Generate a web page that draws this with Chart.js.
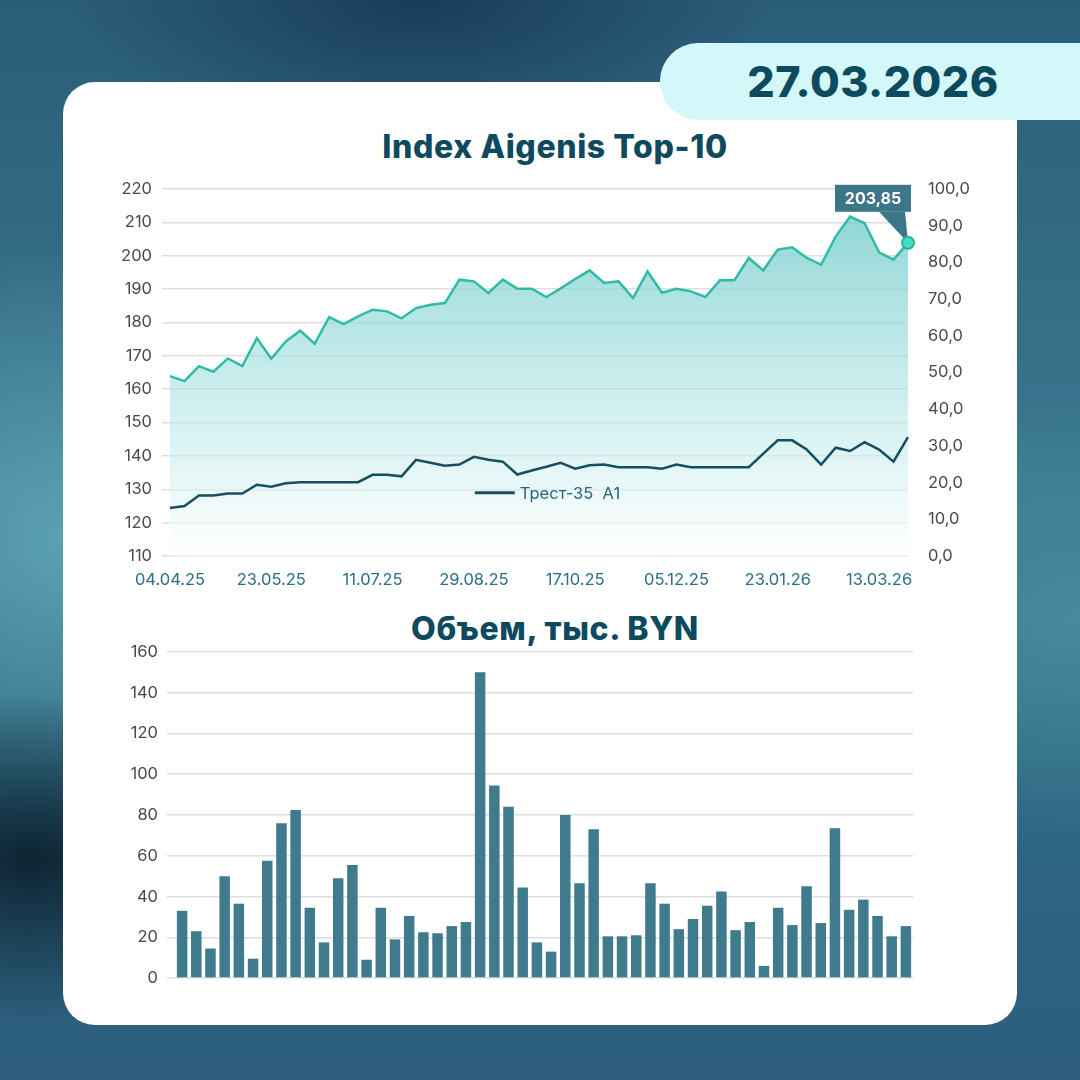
<!DOCTYPE html>
<html>
<head>
<meta charset="utf-8">
<script src="https://cdn.jsdelivr.net/npm/chart.js"></script>
<style>
  html, body { margin: 0; padding: 0; }
  body {
    width: 1080px; height: 1080px; position: relative; overflow: hidden;
    font-family: Inter, "Open Sans", sans-serif;
    background:
      radial-gradient(ellipse 380px 240px at 30px 860px, rgba(8,24,36,0.85), rgba(8,24,36,0) 70%),
      radial-gradient(ellipse 420px 420px at 60px 540px, rgba(95,165,180,0.9), rgba(95,165,180,0) 70%),
      radial-gradient(ellipse 500px 320px at 1080px 620px, rgba(75,145,160,0.8), rgba(75,145,160,0) 70%),
      radial-gradient(ellipse 500px 220px at 420px 0px, rgba(24,56,84,0.9), rgba(24,56,84,0) 70%),
      linear-gradient(180deg, #2a5d78 0%, #3a7890 45%, #2d6782 75%, #2d5e7e 100%);
  }
  .card {
    position: absolute; left: 63px; top: 82px; width: 954px; height: 943px;
    background: #fff; border-radius: 32px;
  }
  .badge {
    position: absolute; left: 660px; top: 43px; width: 460px; height: 77px;
    background: #d4f7f9; border-radius: 38px;
  }
  .badge span {
    position: absolute; left: 0; width: 426px; top: 0; line-height: 77px;
    text-align: center; font-size: 43px; font-weight: 800; color: #0c4a5e;
    letter-spacing: 0.5px;
  }
  .title {
    position: absolute; left: 63px; width: 984px; text-align: center;
    font-size: 32px; font-weight: 800; color: #0e4a5e; letter-spacing: 0.6px;
  }
  canvas { position: absolute; }
</style>
</head>
<body>
<div class="card"></div>
<div class="badge"><span>27.03.2026</span></div>
<div class="title" style="top:127px;">Index Aigenis Top-10</div>
<div class="title" style="top:609px;">Объем, тыс. BYN</div>
<canvas id="lineChart" width="954" height="433" style="left:63px;top:167px;"></canvas>
<canvas id="barChart" width="954" height="364" style="left:63px;top:633px;"></canvas>
<script>
// === DATA ===
const labels = [
  '04.04.25','11.04.25','18.04.25','25.04.25','02.05.25','09.05.25','16.05.25','23.05.25','30.05.25','06.06.25',
  '13.06.25','20.06.25','27.06.25','04.07.25','11.07.25','18.07.25','25.07.25','01.08.25','08.08.25','15.08.25',
  '22.08.25','29.08.25','05.09.25','12.09.25','19.09.25','26.09.25','03.10.25','10.10.25','17.10.25','24.10.25',
  '31.10.25','07.11.25','14.11.25','21.11.25','28.11.25','05.12.25','12.12.25','19.12.25','26.12.25','02.01.26',
  '09.01.26','16.01.26','23.01.26','30.01.26','06.02.26','13.02.26','20.02.26','27.02.26','06.03.26','13.03.26',
  '20.03.26','27.03.26'
];
const shownLabels = ['04.04.25','23.05.25','11.07.25','29.08.25','17.10.25','05.12.25','23.01.26','13.03.26'];

const indexValues = [
  163.9,162.4,166.9,165.2,169.2,166.9,175.3,169.1,174.3,177.5,
  173.6,181.6,179.5,181.8,183.8,183.3,181.2,184.3,185.3,185.8,
  192.8,192.3,188.8,192.8,190.1,190.1,187.6,190.2,193.0,195.6,
  191.8,192.3,187.3,195.3,188.9,190.1,189.3,187.6,192.6,192.6,
  199.3,195.6,201.8,202.5,199.3,197.3,205.7,211.7,209.7,201.0,
  198.8,203.85
];
const trestValues = [
  13.1,13.6,16.5,16.5,17.0,17.0,19.4,18.9,19.8,20.1,
  20.1,20.1,20.1,20.1,22.1,22.1,21.7,26.2,25.4,24.6,
  24.9,27.0,26.2,25.7,22.2,23.3,24.3,25.4,23.8,24.7,
  24.9,24.2,24.2,24.2,23.8,24.9,24.2,24.2,24.2,24.2,
  24.2,27.9,31.5,31.5,29.0,24.9,29.5,28.6,31.0,29.0,
  25.7,32.4
];
const volumeValues = [
  33,23,14.5,50,36.5,9.5,57.5,76,82.5,34.5,
  17.5,49,55.5,9,34.5,19,30.5,22.5,22,25.5,
  27.5,150,94.5,84,44.5,17.5,13,80,46.5,73,
  20.5,20.5,21,46.5,36.5,24,29,35.5,42.5,23.5,
  27.5,6,34.5,26,45,27,73.5,33.5,38.5,30.5,
  20.5,25.5
];
const legendLabel = 'Трест-35  А1';
const lastLabel = '203,85';

// === STYLE ===
const TICK_FONT = { family: 'Inter, "Open Sans", sans-serif', size: 16.5 };
const GRID = '#dedede';
const fmtComma = (v) => v.toFixed(1).replace('.', ',');

// === PLUGIN: legend inside plot + callout for last point ===
const overlayPlugin = {
  id: 'overlay',
  afterDatasetsDraw(chart) {
    const ctx = chart.ctx;
    const area = chart.chartArea;
    // legend
    const lx = area.left + (area.right - area.left) * 0.413;
    const ly = chart.scales.yRight.getPixelForValue(17.2);
    ctx.save();
    ctx.strokeStyle = '#174f62';
    ctx.lineWidth = 3;
    ctx.beginPath(); ctx.moveTo(lx, ly); ctx.lineTo(lx + 40, ly); ctx.stroke();
    ctx.fillStyle = '#2a6478';
    ctx.font = '16.5px Inter, "Open Sans", sans-serif';
    ctx.textBaseline = 'middle';
    ctx.fillText(legendLabel, lx + 45, ly + 1);

    // callout
    const meta = chart.getDatasetMeta(0);
    const pt = meta.data[meta.data.length - 1];
    const bw = 76, bh = 27;
    const bx = pt.x - 73, by = pt.y - 58;
    ctx.fillStyle = '#3e7689';
    ctx.fillRect(bx, by, bw, bh);
    ctx.beginPath();
    ctx.moveTo(bx + bw - 32, by + bh);
    ctx.lineTo(pt.x, pt.y);
    ctx.lineTo(bx + bw - 6, by + bh);
    ctx.closePath(); ctx.fill();
    ctx.fillStyle = '#fff';
    ctx.font = 'bold 16px Inter, "Open Sans", sans-serif';
    ctx.textAlign = 'center';
    ctx.fillText(lastLabel, bx + bw / 2, by + bh / 2 + 1);
    // point on top
    ctx.beginPath();
    ctx.arc(pt.x, pt.y, 6, 0, Math.PI * 2);
    ctx.fillStyle = '#45dcc6';
    ctx.fill();
    ctx.lineWidth = 2;
    ctx.strokeStyle = '#27b39f';
    ctx.stroke();
    ctx.restore();
  }
};

// === LINE CHART ===
new Chart(document.getElementById('lineChart'), {
  type: 'line',
  data: {
    labels,
    datasets: [
      {
        label: 'Index Aigenis Top-10',
        data: indexValues,
        yAxisID: 'yLeft',
        order: 1,
        borderColor: '#2fbca7',
        borderWidth: 2.5,
        pointRadius: 0,
        tension: 0,
        fill: 'start',
        backgroundColor: (c) => {
          const a = c.chart.chartArea;
          if (!a) return 'rgba(140,215,212,0.6)';
          const g = c.chart.ctx.createLinearGradient(0, a.top, 0, a.bottom);
          g.addColorStop(0, 'rgba(120,206,204,0.9)');
          g.addColorStop(0.55, 'rgba(170,226,226,0.6)');
          g.addColorStop(1, 'rgba(255,255,255,0.6)');
          return g;
        }
      },
      {
        label: legendLabel,
        data: trestValues,
        yAxisID: 'yRight',
        order: 0,
        borderColor: '#174f62',
        borderWidth: 2.5,
        pointRadius: 0,
        tension: 0,
        fill: false
      }
    ]
  },
  options: {
    responsive: false,
    animation: false,
    layout: { padding: { top: 0, right: 0, left: 0, bottom: 0 } },
    plugins: {
      legend: { display: false },
      tooltip: { enabled: false },
      filler: { drawTime: 'beforeDatasetsDraw' }
    },
    scales: {
      x: {
        grid: { display: false },
        border: { display: false },
        afterFit: (s) => { s.height = 44; },
        ticks: {
          autoSkip: false, maxRotation: 0, padding: 6,
          color: '#2a6f88', font: TICK_FONT,
          callback: function (v, i) {
            const l = labels[i];
            return shownLabels.includes(l) ? l : '';
          }
        }
      },
      yLeft: {
        position: 'left', min: 110, max: 220,
        afterFit: (s) => { s.width = 107; },
        grid: { color: GRID, lineWidth: 1.5 },
        border: { display: false },
        ticks: { stepSize: 10, padding: 10, color: '#4a4a4a', font: TICK_FONT }
      },
      yRight: {
        position: 'right', min: 0, max: 100,
        afterFit: (s) => { s.width = 109; },
        grid: { display: false },
        border: { display: false },
        ticks: { stepSize: 10, padding: 12, color: '#4a4a4a', font: TICK_FONT, callback: (v) => fmtComma(v) }
      }
    }
  },
  plugins: [overlayPlugin]
});

// === BAR CHART ===
new Chart(document.getElementById('barChart'), {
  type: 'bar',
  data: {
    labels,
    datasets: [{
      label: 'Объем, тыс. BYN',
      data: volumeValues,
      backgroundColor: '#3f7b8d',
      categoryPercentage: 1,
      barPercentage: 0.74
    }]
  },
  options: {
    responsive: false,
    animation: false,
    layout: { padding: { top: 11, right: 104, left: 0, bottom: 10 } },
    plugins: { legend: { display: false }, tooltip: { enabled: false } },
    scales: {
      x: { display: false },
      y: {
        min: 0, max: 160,
        afterFit: (s) => { s.width = 112; },
        grid: { color: GRID, lineWidth: 1.5 },
        border: { display: false },
        ticks: { stepSize: 20, padding: 9, color: '#4a4a4a', font: TICK_FONT }
      }
    }
  }
});
</script>
</body>
</html>
